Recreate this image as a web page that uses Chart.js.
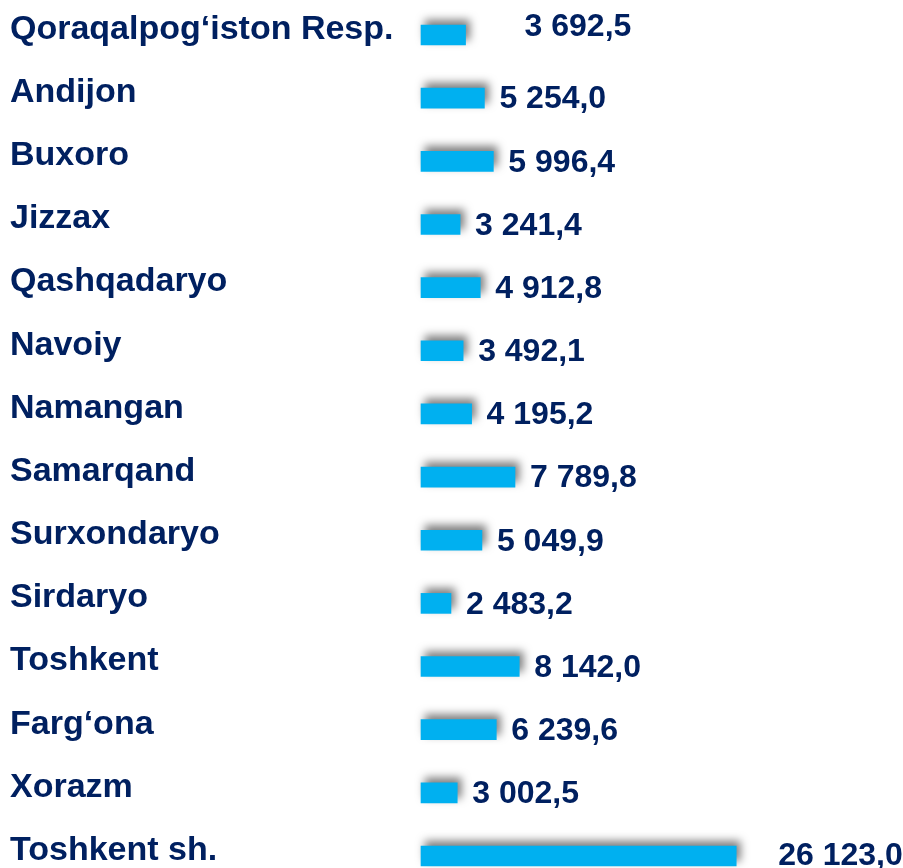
<!DOCTYPE html>
<html lang="uz">
<head>
<meta charset="utf-8">
<title>Hududlar</title>
<script src="https://cdn.jsdelivr.net/npm/chart.js@4/dist/chart.umd.min.js"></script>
<style>
  html, body { margin: 0; padding: 0; background: #fff; }
  #wrap { position: relative; width: 903px; height: 868px; }
</style>
</head>
<body>
<div id="wrap"><canvas id="region-chart"></canvas></div>
<script>
// Regions (top to bottom) and their values.
var REGIONS = [
  'Qoraqalpog\u2018iston Resp.', 'Andijon', 'Buxoro', 'Jizzax', 'Qashqadaryo',
  'Navoiy', 'Namangan', 'Samarqand', 'Surxondaryo', 'Sirdaryo',
  'Toshkent', 'Farg\u2018ona', 'Xorazm', 'Toshkent sh.'
];
var VALUES = [
  3692.5, 5254.0, 5996.4, 3241.4, 4912.8,
  3492.1, 4195.2, 7789.8, 5049.9, 2483.2,
  8142.0, 6239.6, 3002.5, 26123.0
];
var X_MAX = 30000;

// value labels sit right of the bar; two of them are pushed off in the original
var LABEL_DX = [44, 0, 0, 0, 0, 0, 0, 0, 0, 0, 0, 0, 0, 27];
var LABEL_DY = [-9, 0, 0, 0, 0, 0, 0, 0, 0, 0, 0, 0, 0, -1];

var NAVY = '#002060';
var CYAN = '#00B0F0';
var FONT = '"Liberation Sans", Arial, sans-serif';

(function() {
  function fmt(v) {
    var parts = v.toFixed(1).split('.');
    return parts[0].replace(/\B(?=(\d{3})+(?!\d))/g, ' ') + ',' + parts[1];
  }

  // soft grey shadow thrown up and to the right of each bar
  var barShadow = {
    id: 'barShadow',
    beforeDatasetsDraw: function(chart) {
      var ctx = chart.ctx;
      ctx.save();
      ctx.shadowColor = 'rgba(0,0,0,0.5)';
      ctx.shadowBlur = 9;
      ctx.shadowOffsetX = 4;
      ctx.shadowOffsetY = -5;
    },
    afterDatasetsDraw: function(chart) {
      chart.ctx.restore();
    }
  };

  var valueLabels = {
    id: 'valueLabels',
    afterDraw: function(chart) {
      var ctx = chart.ctx;
      var meta = chart.getDatasetMeta(0);
      ctx.save();
      ctx.fillStyle = NAVY;
      ctx.font = 'bold 32px ' + FONT;
      ctx.textAlign = 'left';
      ctx.textBaseline = 'middle';
      meta.data.forEach(function(bar, i) {
        ctx.fillText(fmt(VALUES[i]), bar.x + 15 + LABEL_DX[i], bar.y + 1.5 + LABEL_DY[i]);
      });
      ctx.restore();
    }
  };

  new Chart(document.getElementById('region-chart'), {
    type: 'bar',
    data: {
      labels: REGIONS,
      datasets: [{
        data: VALUES,
        backgroundColor: CYAN,
        borderWidth: 0,
        barThickness: 20,
        clip: false
      }]
    },
    options: {
      indexAxis: 'y',
      responsive: true,
      maintainAspectRatio: false,
      animation: false,
      layout: { padding: { left: 10, right: 120, top: 35, bottom: 12 } },
      plugins: {
        legend: { display: false },
        tooltip: { enabled: false }
      },
      scales: {
        x: { display: false, min: 0, max: X_MAX },
        y: {
          offset: false,
          grid: { display: false },
          border: { display: false },
          ticks: {
            crossAlign: 'far',
            padding: 0,
            labelOffset: -5.5,
            color: NAVY,
            font: { family: FONT, size: 34, weight: 'bold' }
          },
          afterFit: function(scale) {
            scale.width = 411;
            scale.paddingTop = 0;
            scale.paddingBottom = 0;
          }
        }
      }
    },
    plugins: [barShadow, valueLabels]
  });
})();
</script>
</body>
</html>
